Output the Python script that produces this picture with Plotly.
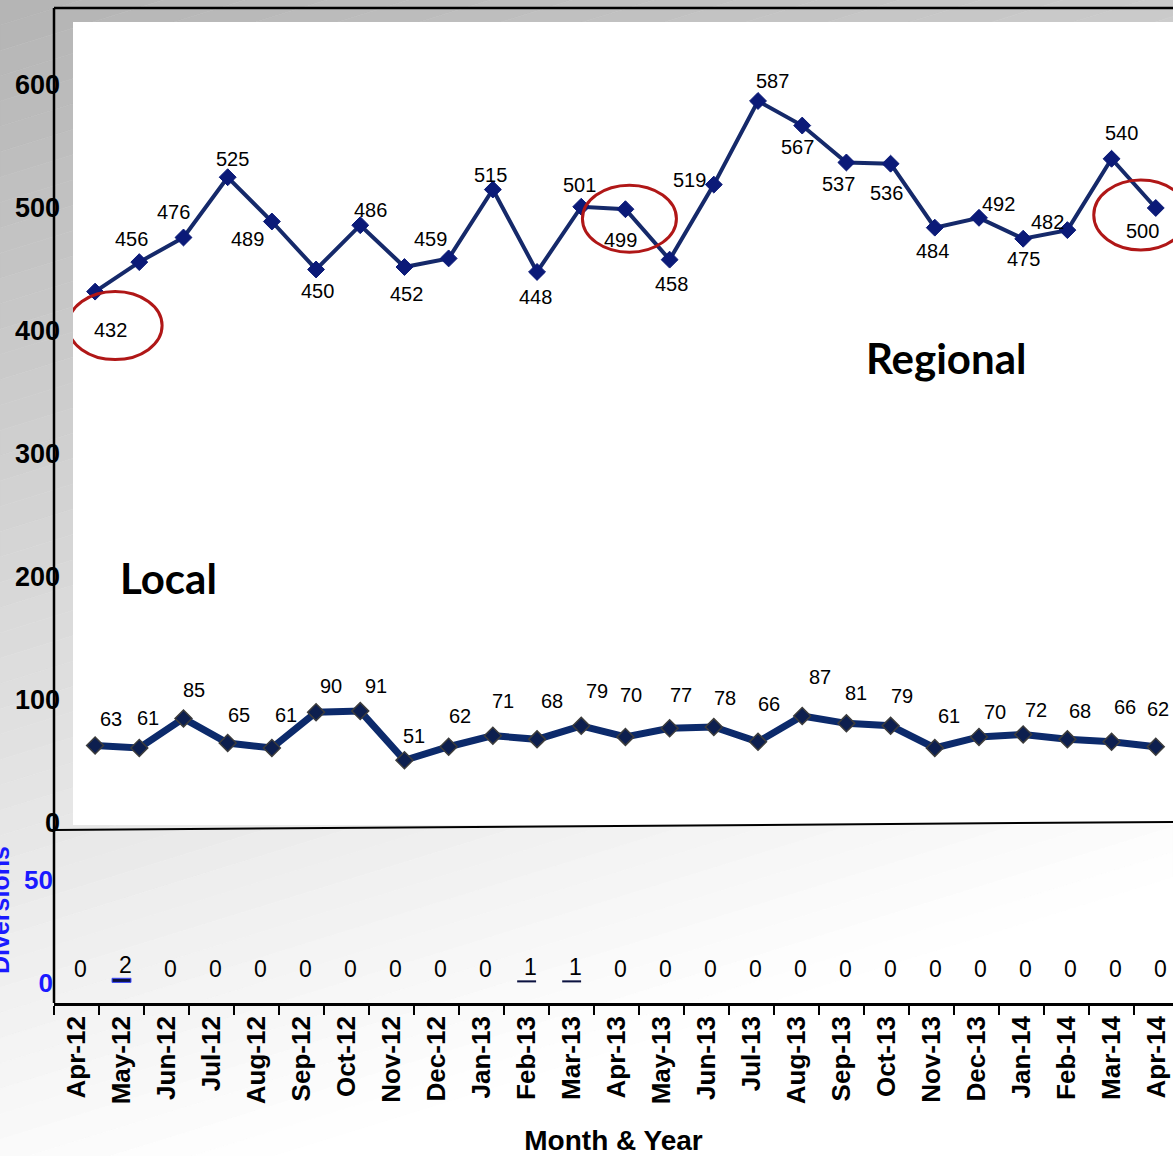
import plotly.graph_objects as go

# ---- data -------------------------------------------------------------
months = ["Apr-12", "May-12", "Jun-12", "Jul-12", "Aug-12", "Sep-12", "Oct-12",
          "Nov-12", "Dec-12", "Jan-13", "Feb-13", "Mar-13", "Apr-13", "May-13",
          "Jun-13", "Jul-13", "Aug-13", "Sep-13", "Oct-13", "Nov-13", "Dec-13",
          "Jan-14", "Feb-14", "Mar-14", "Apr-14"]
regional = [432, 456, 476, 525, 489, 450, 486, 452, 459, 515, 448, 501, 499,
            458, 519, 587, 567, 537, 536, 484, 492, 475, 482, 540, 500]
local = [63, 61, 85, 65, 61, 90, 91, 51, 62, 71, 68, 79, 70, 77, 78, 66, 87,
         81, 79, 61, 70, 72, 68, 66, 62]
diversions = [0, 2, 0, 0, 0, 0, 0, 0, 0, 0, 1, 1, 0, 0, 0, 0, 0, 0, 0, 0, 0,
              0, 0, 0, 0]
main_ticks = [0, 100, 200, 300, 400, 500, 600]
div_ticks = [0, 50]

# ---- label placement (pixel offsets of each value label from its point) --
regional_label_offsets = [(15, 38), (-8, -23), (-10, -25), (5, -18), (-24, 17),
                          (1, 22), (10, -15), (2, 27), (-18, -19), (-2, -15),
                          (-2, 25), (-2, -22), (-5, 31), (2, 24), (-24, -5),
                          (14, -20), (-5, 21), (-8, 22), (-4, 29), (-2, 23),
                          (20, -14), (0, 20), (-20, -8), (10, -26), (-13, 23)]
local_label_offsets = [(16, -27), (9, -30), (11, -28), (11, -28), (14, -33),
                       (15, -26), (16, -25), (10, -24), (11, -31), (10, -35),
                       (15, -38), (16, -35), (6, -42), (11, -33), (11, -29),
                       (11, -38), (18, -39), (10, -30), (11, -30), (14, -32),
                       (16, -25), (13, -24), (13, -28), (13, -35), (2, -38)]

W, H = 1173, 1156
ARIAL = "Liberation Sans, Arial, sans-serif"


def px(x):
    return x / W


def py(y):
    return 1 - y / H


fig = go.Figure()

# Regional line
fig.add_trace(go.Scatter(
    x=months, y=regional, mode="lines+markers", xaxis="x", yaxis="y",
    line=dict(color="#15296a", width=4),
    marker=dict(symbol="diamond", size=13, color="#0b1a78",
                line=dict(color="#0b1a78", width=1)),
    showlegend=False, hoverinfo="x+y"))

# Local line
fig.add_trace(go.Scatter(
    x=months, y=local, mode="lines+markers", xaxis="x", yaxis="y",
    line=dict(color="#0c2a6b", width=7),
    marker=dict(symbol="diamond", size=13, color="#0d1f4f",
                line=dict(color="#3c3c3c", width=1.5)),
    showlegend=False, hoverinfo="x+y"))

# Diversions bars (outlined only where there is a bar to outline)
fig.add_trace(go.Bar(
    x=months, y=diversions, xaxis="x2", yaxis="y2", width=0.42,
    marker=dict(color="#0b1240",
                line=dict(color="#3a48ff",
                          width=[1 if v > 1 else 0 for v in diversions])),
    showlegend=False, hoverinfo="x+y"))

label_font = dict(family=ARIAL, size=20, color="black")
annotations = []
for m, v, (dx, dy) in zip(months, regional, regional_label_offsets):
    annotations.append(dict(x=m, y=v, xref="x", yref="y", text=str(v),
                            showarrow=False, xshift=dx, yshift=-dy,
                            font=label_font))
for m, v, (dx, dy) in zip(months, local, local_label_offsets):
    annotations.append(dict(x=m, y=v, xref="x", yref="y", text=str(v),
                            showarrow=False, xshift=dx, yshift=-dy,
                            font=label_font))
for m, v in zip(months, diversions):
    annotations.append(dict(x=m, y=v, xref="x2", yref="y2", text=str(v),
                            showarrow=False, xshift=4, yshift=13,
                            font=dict(family=ARIAL, size=23, color="black")))

annotations += [
    dict(x=px(946), y=py(358), xref="paper", yref="paper", text="Regional",
         showarrow=False,
         font=dict(family="Lato", size=42, color="black", weight="bold"),
         xanchor="center", yanchor="middle"),
    dict(x=px(168), y=py(578), xref="paper", yref="paper", text="Local",
         showarrow=False,
         font=dict(family="Lato", size=42, color="black", weight="bold"),
         xanchor="center", yanchor="middle"),
    dict(x=0, y=py(910), xref="paper", yref="paper", text="<b>Diversions</b>",
         showarrow=False, textangle=-90,
         font=dict(family=ARIAL, size=25, color="#1a1aff"),
         xanchor="center", yanchor="middle"),
]

# Slide background: diagonal grey-to-white gradient built from strips
shapes = []
n_steps = 60
c0, a_y, b_x = 180.0, 70.0, 22.0
k_lo, k_hi = c0, c0 + a_y + b_x
dk = (k_hi - k_lo) / n_steps


def strip_y(k, xp):
    return 1 - (k - c0 - b_x * xp) / a_y


for i in range(n_steps):
    k1 = k_lo + i * dk
    k2 = k1 + dk
    if i == 0:
        k1 = k_lo - 200
    if i == n_steps - 1:
        k2 = k_hi + 200
    pts = [(0, strip_y(k1, 0)), (1, strip_y(k1, 1)),
           (1, strip_y(k2, 1)), (0, strip_y(k2, 0))]
    path = "M " + " L ".join(f"{x:.5f},{y:.5f}" for x, y in pts) + " Z"
    g = int(min(255, round(k_lo + (i + 0.5) * dk)))
    col = f"rgb({g},{g},{g})"
    shapes.append(dict(type="path", path=path, xref="paper", yref="paper",
                       fillcolor=col, line=dict(width=0.6, color=col),
                       layer="below"))

# White plotting area of the upper chart
shapes.append(dict(type="rect", xref="paper", yref="paper",
                   x0=px(73), x1=1.01, y0=py(825), y1=py(22),
                   fillcolor="white", line=dict(width=0), layer="below"))

# Frame lines
frame = dict(color="black", width=2.5)
shapes += [
    dict(type="line", xref="paper", yref="paper", x0=px(54), x1=1.01,
         y0=py(8), y1=py(8), line=frame),
    dict(type="line", xref="paper", yref="paper", x0=px(54), x1=px(54),
         y0=py(8), y1=py(1003), line=frame),
    dict(type="line", xref="paper", yref="paper", x0=px(54), x1=1.0,
         y0=py(830), y1=py(822), line=dict(color="black", width=2)),
]

# Red highlight rings around selected months
ring = dict(color="#b01717", width=3)
for idx, (x0, x1, y0, y1) in [(0, (-27, 67, -68, 0)),
                              (12, (-43, 51, -43, 24)),
                              (24, (-62, 32, -42, 28))]:
    shapes.append(dict(type="circle", xref="x", yref="y",
                       xsizemode="pixel", ysizemode="pixel",
                       xanchor=months[idx], yanchor=regional[idx],
                       x0=x0, x1=x1, y0=y0, y1=y1, line=ring))

fig.update_layout(
    width=W, height=H,
    margin=dict(l=0, r=0, t=0, b=0, autoexpand=False),
    paper_bgcolor="white",
    plot_bgcolor="rgba(0,0,0,0)",
    showlegend=False,
    bargap=0.5,
    xaxis=dict(domain=[px(73), 1], range=[-0.5, 24.39], type="category",
               categoryorder="array", categoryarray=months,
               visible=False, fixedrange=True, automargin=False),
    yaxis=dict(domain=[py(825), py(22)], range=[-1.63, 651.2],
               anchor="free", position=px(60), automargin=False,
               tickvals=main_ticks, showgrid=False, zeroline=False,
               showline=False, ticks="",
               tickfont=dict(family=ARIAL, size=27, color="black",
                             weight="bold")),
    xaxis2=dict(domain=[px(54), 1], range=[-0.5, 24.36], type="category",
                categoryorder="array", categoryarray=months,
                anchor="y2", tickson="boundaries", ticks="outside",
                ticklen=9, tickwidth=1.5, tickcolor="black",
                showline=True, linecolor="black", linewidth=2.5,
                showgrid=False, tickangle=-90, automargin=False,
                tickfont=dict(family=ARIAL, size=26, color="black",
                              weight="bold"),
                title=dict(text="Month & Year", standoff=29,
                           font=dict(family=ARIAL, size=28, color="black",
                                     weight="bold"))),
    yaxis2=dict(domain=[py(1003), py(830)], range=[-10, 74], anchor="x2",
                automargin=False,
                tickvals=div_ticks, showgrid=False, zeroline=False,
                showline=False, ticks="",
                tickfont=dict(family=ARIAL, size=26, color="#1a1aff",
                              weight="bold")),
    shapes=shapes,
    annotations=annotations,
)

fig.write_html("out.html")
